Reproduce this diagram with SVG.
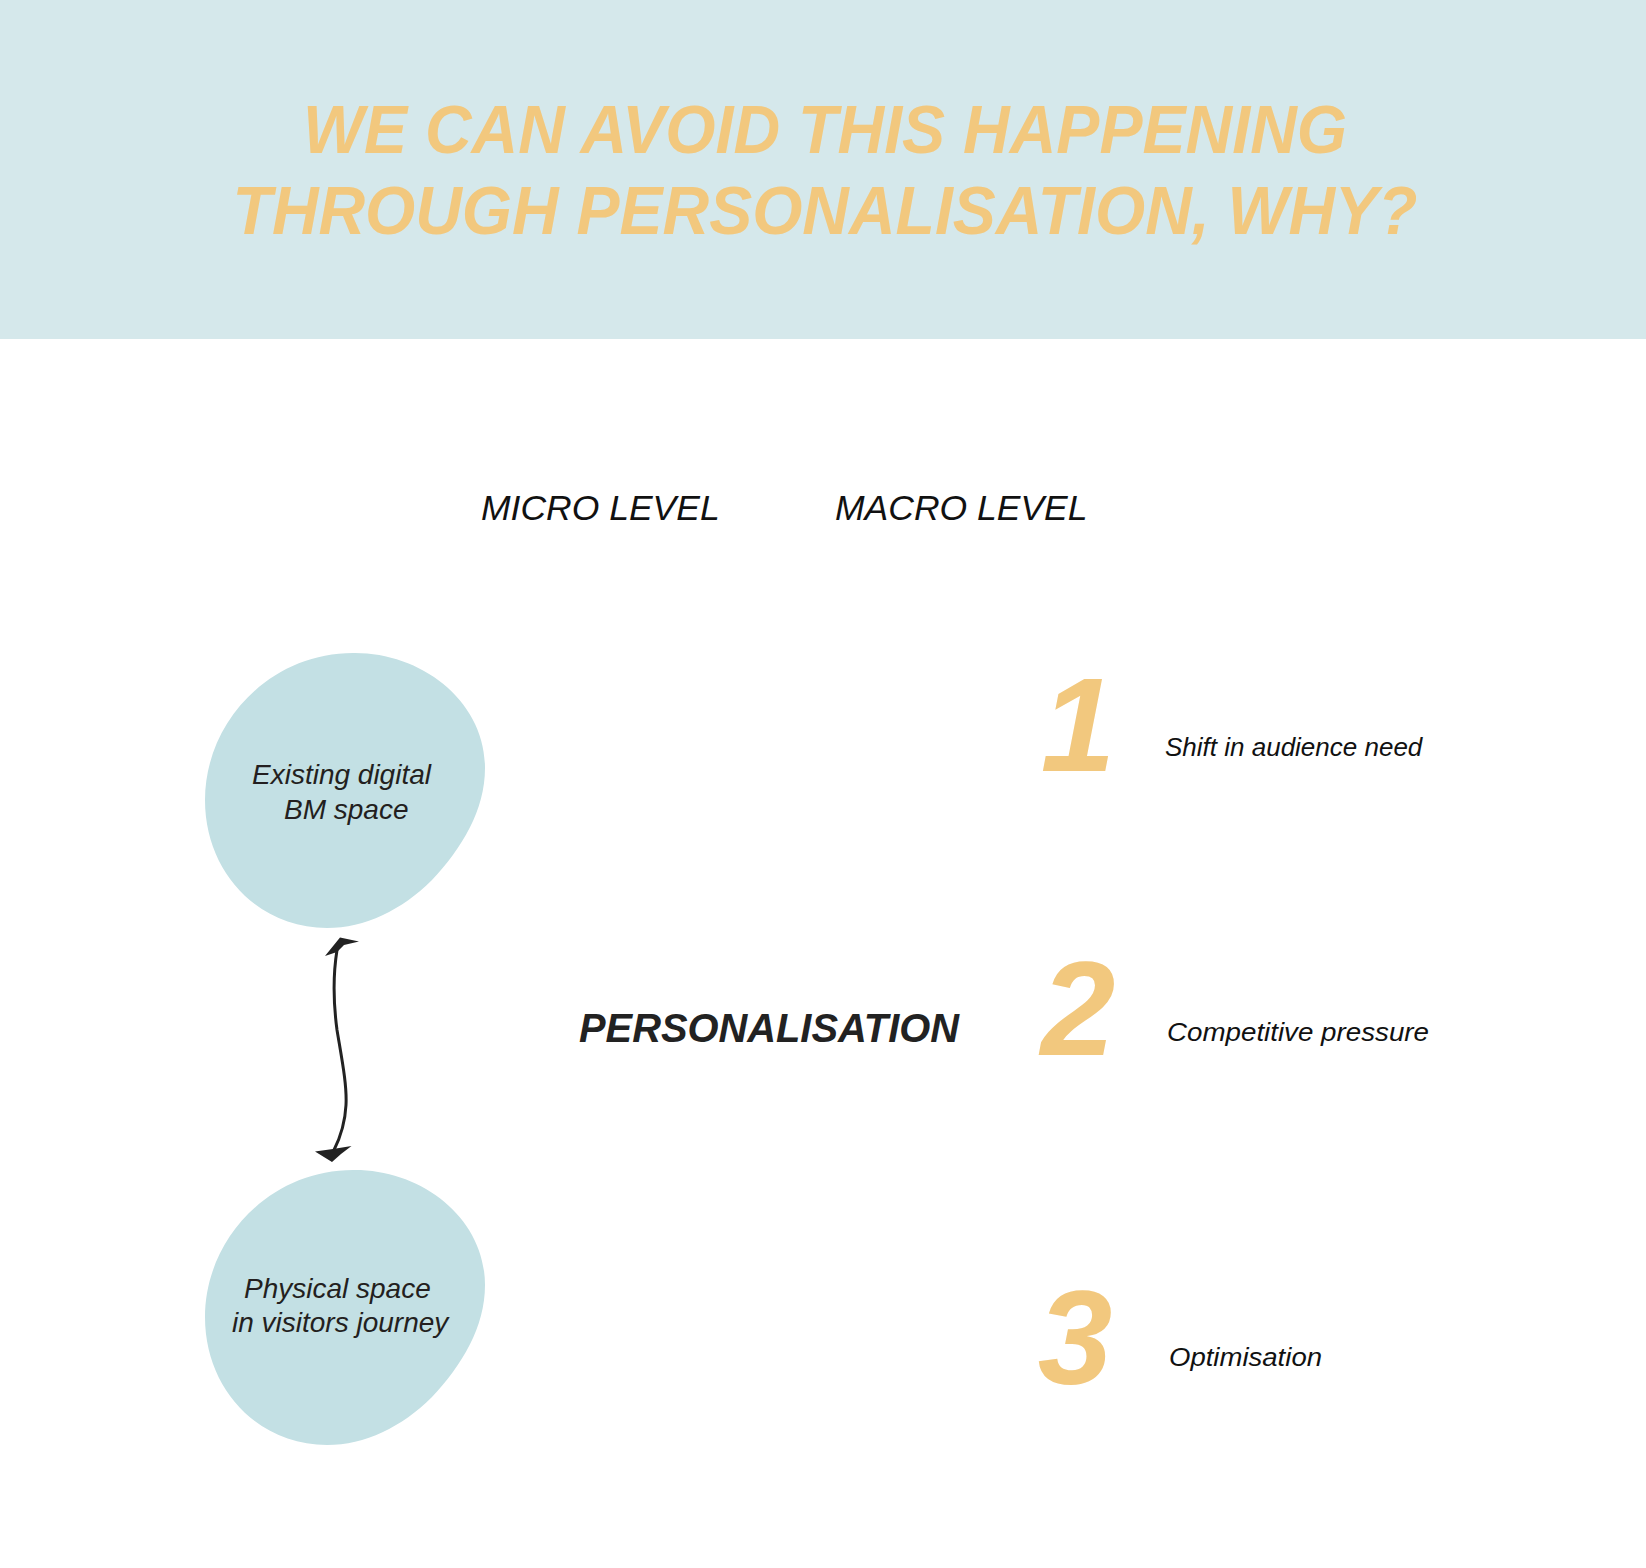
<svg xmlns="http://www.w3.org/2000/svg" width="1646" height="1568" viewBox="0 0 1646 1568">
  <style>
    .title { font-family: "Liberation Sans", Arial, sans-serif; font-weight: 700; font-style: italic; font-size: 68px; fill: #f2c87e; }
    .level { font-family: "Liberation Sans", Arial, sans-serif; font-style: italic; font-size: 35.5px; fill: #111111; }
    .blobtext { font-family: "Liberation Sans", Arial, sans-serif; font-style: italic; font-size: 28px; fill: #231f20; }
    .num { font-family: "Liberation Sans", Arial, sans-serif; font-weight: 700; font-style: italic; font-size: 134px; fill: #f2c87e; }
    .reason { font-family: "Liberation Sans", Arial, sans-serif; font-style: italic; font-size: 26px; fill: #111111; }
    .center { font-family: "Liberation Sans", Arial, sans-serif; font-weight: 700; font-style: italic; font-size: 40px; fill: #222222; }
    .blob { fill: #c3e0e4; }
    .conn { fill: none; stroke: #222222; stroke-width: 3; stroke-linecap: round; }
    .head { fill: #222222; }
  </style>
  <defs>
    <path id="blobShape" d="M 353,653 C 420,652 485,700 485,768 C 485,810 462,848 432,880 C 402,910 365,928 327,928 C 258,928 205,872 205,800 C 205,722 270,653 353,653 Z"/>
  </defs>

  <rect x="0" y="0" width="1646" height="339" fill="#d5e8eb"/>

  <g id="title">
    <text class="title" x="825" y="153" text-anchor="middle" textLength="1044" lengthAdjust="spacingAndGlyphs">WE CAN AVOID THIS HAPPENING</text>
    <text class="title" x="825" y="234" text-anchor="middle" textLength="1185" lengthAdjust="spacingAndGlyphs">THROUGH PERSONALISATION, WHY?</text>
  </g>

  <g id="micro-level">
    <text class="level" x="481" y="520">MICRO LEVEL</text>
  </g>
  <g id="macro-level">
    <text class="level" x="835" y="520">MACRO LEVEL</text>
  </g>

  <g id="node-digital">
    <use href="#blobShape" class="blob"/>
    <text class="blobtext" x="252" y="784">Existing digital</text>
    <text class="blobtext" x="284" y="819">BM space</text>
  </g>

  <g id="node-physical">
    <use href="#blobShape" class="blob" transform="translate(0,517)"/>
    <text class="blobtext" x="244" y="1298">Physical space</text>
    <text class="blobtext" x="232" y="1332">in visitors journey</text>
  </g>

  <g id="connectors">
    <path class="conn" d="M 337,950 C 333,975 333,1000 337,1030 C 342,1060 347,1085 346,1105 C 345,1125 340,1138 334,1150"/>
    <polygon class="head" points="325,956 340,937.5 359,941.5 344,945 337,952"/>
    <polygon class="head" points="315,1151.5 333,1149 351.5,1146 341,1154 332,1162"/>
  </g>

  <g id="center-label">
    <text class="center" x="579" y="1042" textLength="380" lengthAdjust="spacingAndGlyphs">PERSONALISATION</text>
  </g>

  <g id="reason-1">
    <text class="num" x="1078" y="771" text-anchor="middle">1</text>
    <text class="reason" x="1165" y="756">Shift in audience need</text>
  </g>
  <g id="reason-2">
    <text class="num" x="1078" y="1055" text-anchor="middle">2</text>
    <text class="reason" x="1167" y="1041" textLength="262" lengthAdjust="spacingAndGlyphs">Competitive pressure</text>
  </g>
  <g id="reason-3">
    <text class="num" x="1075" y="1384" text-anchor="middle">3</text>
    <text class="reason" x="1169" y="1366" textLength="153" lengthAdjust="spacingAndGlyphs">Optimisation</text>
  </g>
</svg>
